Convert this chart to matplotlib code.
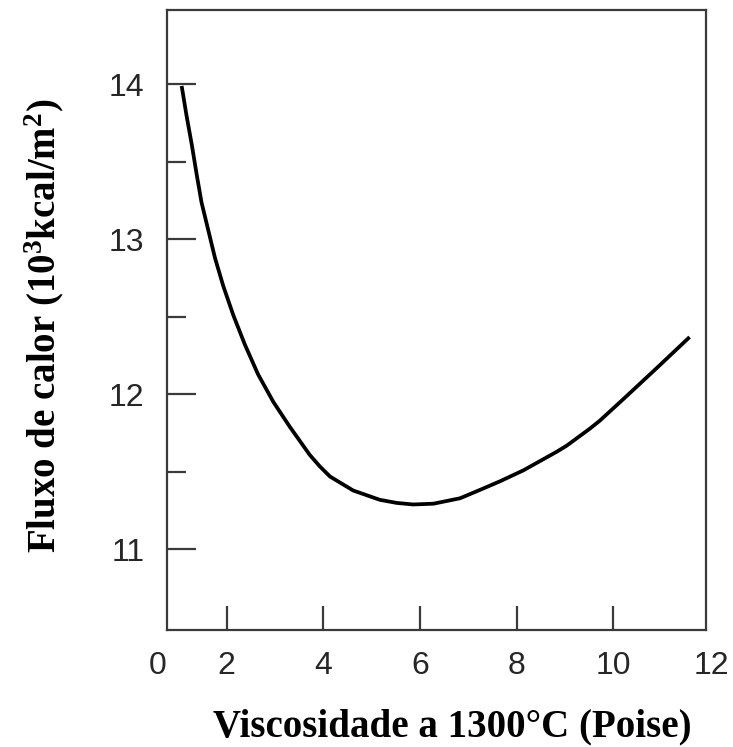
import matplotlib
matplotlib.use("Agg")
import matplotlib.pyplot as plt
import matplotlib.transforms as mtransforms

# Data
viscosity = [1.07, 1.17, 1.28, 1.38, 1.48, 1.62, 1.76, 1.93, 2.14, 2.38,
             2.65, 2.97, 3.31, 3.72, 3.93, 4.14, 4.62, 5.17, 5.52, 5.86,
             6.28, 6.83, 7.25, 7.66, 8.14, 8.83, 9.04, 9.52, 9.72, 10.21,
             10.90, 11.58]
heat_flux = [13.99, 13.80, 13.61, 13.42, 13.24, 13.06, 12.88, 12.70, 12.51, 12.32,
             12.13, 11.95, 11.79, 11.61, 11.535, 11.47, 11.38, 11.32, 11.30, 11.29,
             11.295, 11.33, 11.385, 11.44, 11.51, 11.63, 11.67, 11.78, 11.83, 11.97,
             12.17, 12.37]
x_ticks = [2, 4, 6, 8, 10]
x_tick_labels = ["2", "4", "6", "8", "10"]
x_edge_labels = ["0", "12"]
y_major = [11, 12, 13, 14]
y_minor = [11.5, 12.5, 13.5]

plt.rcParams['mathtext.fontset'] = 'custom'
plt.rcParams['mathtext.rm'] = 'Liberation Serif:bold'
plt.rcParams['mathtext.bf'] = 'Liberation Serif:bold'
plt.rcParams['mathtext.it'] = 'Liberation Serif:bold'

fig = plt.figure(figsize=(7.33, 7.47), dpi=100)
ax = fig.add_axes([0.2274, 0.1566, 0.7358, 0.83])

ax.plot(viscosity, heat_flux, color="black", lw=2.7,
        solid_capstyle="butt", solid_joinstyle="round")

ax.set_xlim(0.76, 11.92)
ax.set_ylim(10.48, 14.48)

spine_col = "#3a3a3a"
for s in ax.spines.values():
    s.set_color(spine_col)
    s.set_linewidth(1.6)

tick_col = "#262626"
tick_font = dict(family=["Liberation Sans Narrow", "Liberation Sans"], size=23)
ax.set_xticks(x_ticks)
ax.set_xticklabels(x_tick_labels, **tick_font, color=tick_col)
ax.set_yticks(y_major)
ax.set_yticklabels([str(v) for v in y_major], **tick_font, color=tick_col)
ax.set_yticks(y_minor, minor=True)

xpad = 15
ax.tick_params(axis="x", which="major", direction="in", length=17, width=1.6,
               color=spine_col, pad=xpad)
ax.tick_params(axis="y", which="major", direction="in", length=21, width=1.6,
               color=spine_col, pad=16)
ax.tick_params(axis="y", which="minor", direction="in", length=14, width=1.6,
               color=spine_col)

# Edge labels "0" and "12" sit at the axis ends as in the reference
trans = mtransforms.blended_transform_factory(ax.transData, ax.transAxes)
offset = mtransforms.ScaledTranslation(0, -xpad / 72, fig.dpi_scale_trans)
for xv, lab in zip([0.58, 12.04], x_edge_labels):
    t = ax.text(xv, 0.0, lab, ha="center", va="top", **tick_font, color=tick_col)
    t.set_transform(trans + offset)
    t.set_clip_on(False)

label_font = dict(family="Liberation Serif", weight="bold", size=28)
ax.set_xlabel("Viscosidade a 1300°C (Poise)", **label_font)
ax.xaxis.set_label_coords(0.529, -0.127)
ax.set_ylabel(r"Fluxo de calor (10$^{\mathbf{3}}$kcal/m$^{\mathbf{2}}$)", **label_font)
ax.yaxis.set_label_coords(-0.187, 0.49)

fig.savefig("out.png", dpi=100)
